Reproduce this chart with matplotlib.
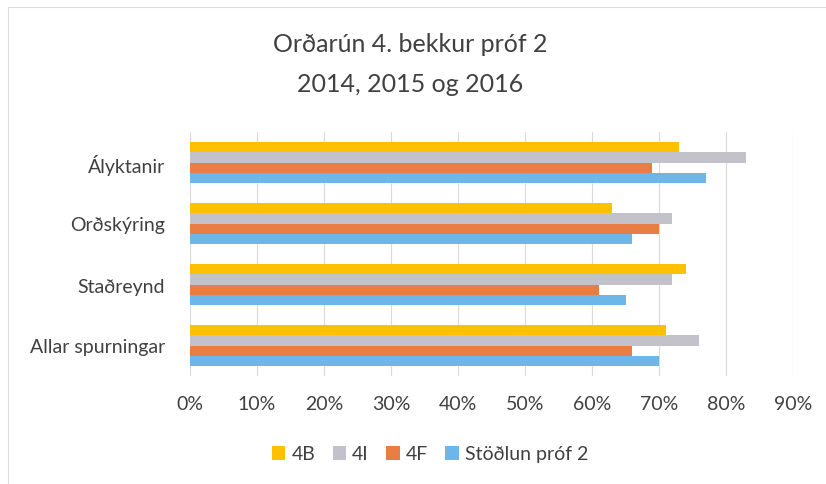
import matplotlib.pyplot as plt
import numpy as np

plt.rcParams['font.family'] = ['Lato', 'DejaVu Sans']

categories = ['Ályktanir', 'Orðskýring', 'Staðreynd', 'Allar spurningar']
series = ['4B', '4I', '4F', 'Stöðlun próf 2']
val_4b = [73, 63, 74, 71]
val_4i = [83, 72, 72, 76]
val_4f = [69, 70, 61, 66]
val_std = [77, 66, 65, 70]
colors = ['#FFC000', '#C3C2CB', '#E97E45', '#6DB6EA']

fig = plt.figure(figsize=(8.26, 4.85), dpi=100)
ax = fig.add_axes([190/826, 1-377/485, (793-190)/826, (377-133)/485])

# frame around the chart like the scanned excel box
fig.patches.append(plt.Rectangle((8/826, -0.1), 1.2, 1-8/485+0.1, transform=fig.transFigure,
                                 fill=False, edgecolor='#DDDDDD', linewidth=0.8))

ypos = np.arange(len(categories))[::-1]
h = 0.172
data = [val_4b, val_4i, val_4f, val_std]
for k, (vals, name, c) in enumerate(zip(data, series, colors)):
    off = (1.5 - k) * h
    ax.barh(ypos + off, np.array(vals) / 100, height=h, color=c, label=name)

ax.set_xlim(0, 0.9)
ax.set_ylim(-0.5, 3.5)
ax.set_xticks(np.arange(0, 0.91, 0.1))
ax.set_xticklabels([f'{int(round(t*100))}%' for t in np.arange(0, 0.91, 0.1)])
ax.set_yticks(ypos)
ax.set_yticklabels(categories)
ax.tick_params(length=0, labelsize=14, colors='#404040')
ax.tick_params(axis='x', pad=14)
ax.tick_params(axis='y', pad=18)
ax.grid(axis='x', color='#D9D9D9', linewidth=0.8)
ax.set_axisbelow(True)
for s in ax.spines.values():
    s.set_visible(False)

fig.text(410/826, 1-45/485, 'Orðarún 4. bekkur próf 2', ha='center', va='center',
         fontsize=18, color='#404040')
fig.text(410/826, 1-85/485, '2014, 2015 og 2016', ha='center', va='center',
         fontsize=18, color='#404040')

fig.legend(loc='center', bbox_to_anchor=(430/826, 1-455/485), ncol=4, frameon=False,
           fontsize=14, handlelength=0.7, handleheight=0.7, handletextpad=0.3,
           columnspacing=0.9, labelcolor='#404040')

fig.savefig('out.png', dpi=100)
